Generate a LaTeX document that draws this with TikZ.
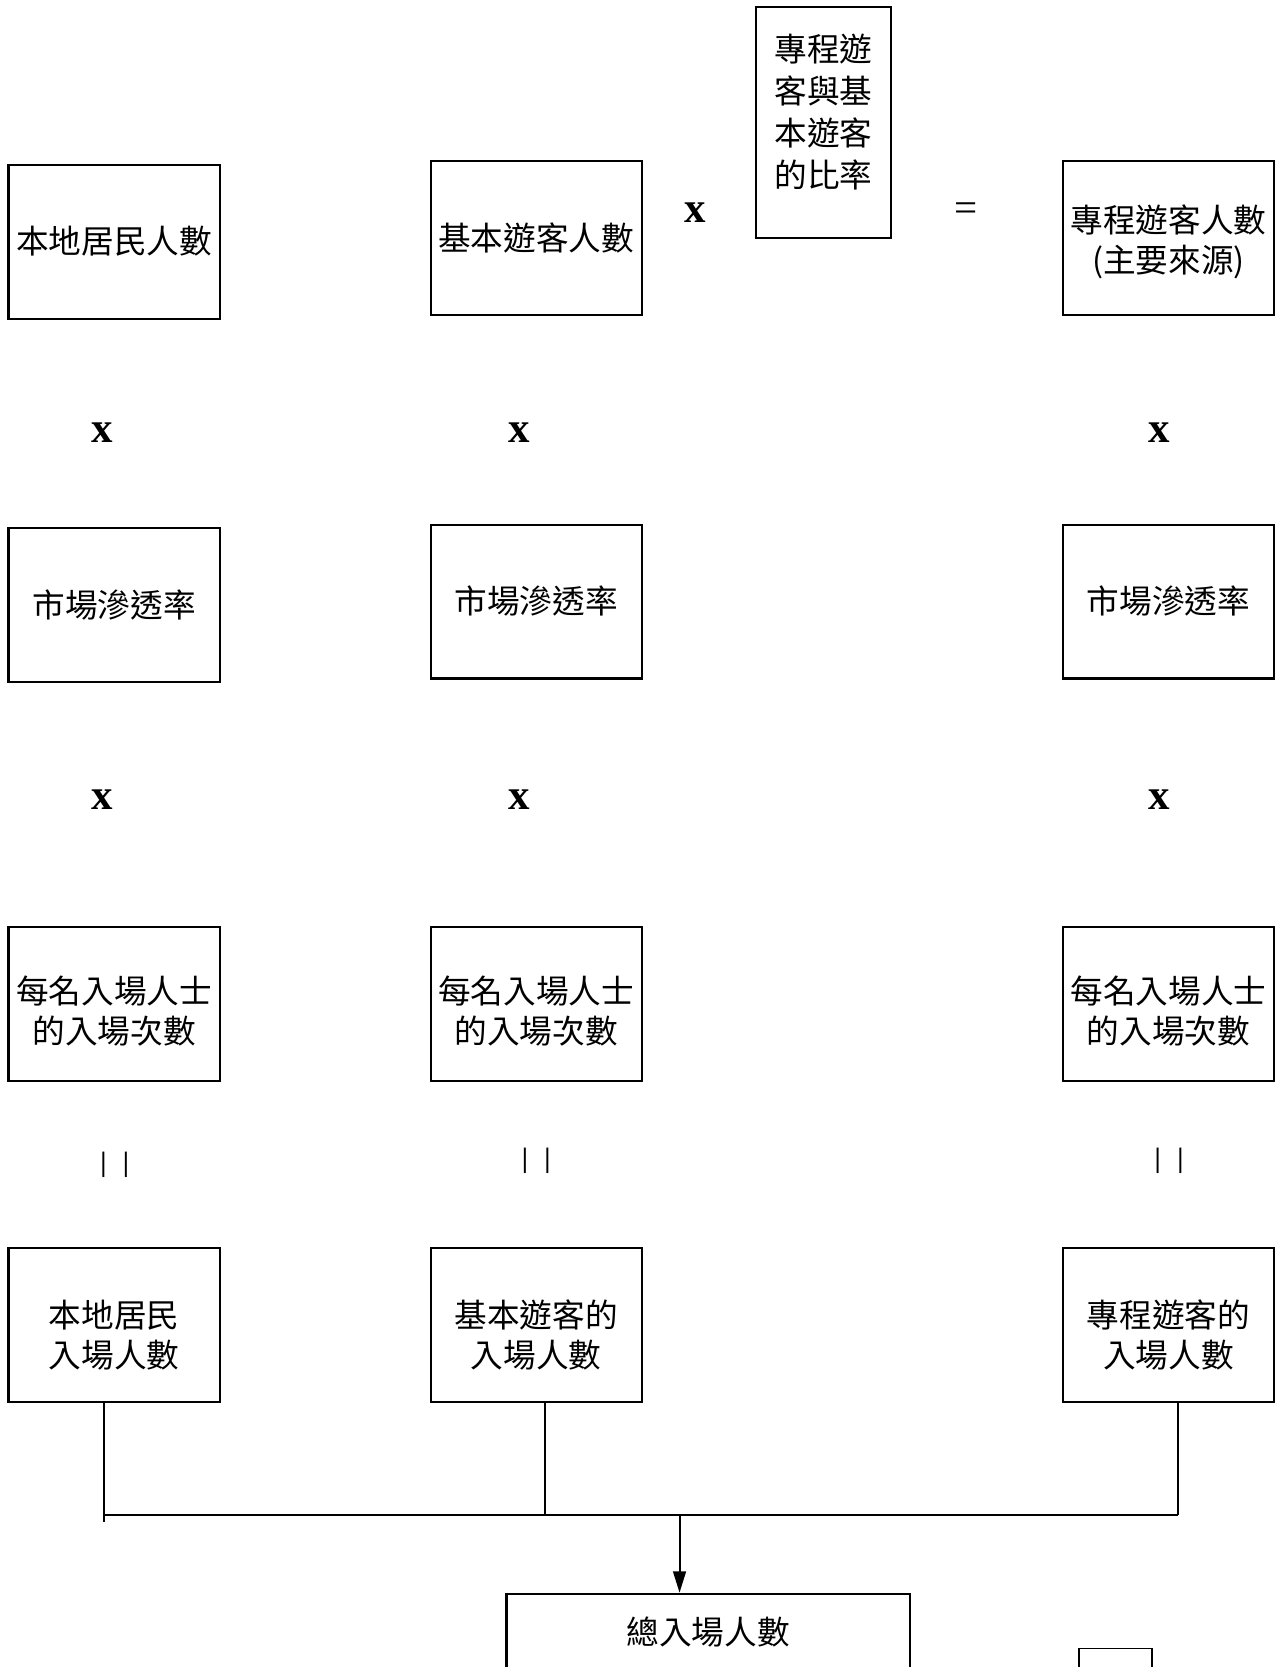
\documentclass[tikz,border=0pt]{standalone}
\usepackage{fontspec}
\setmainfont{Liberation Serif}
\newfontfamily\cjk{Noto Sans CJK TC}
\usetikzlibrary{
  positioning,
  arrows.meta
}
\tikzset{
  >={Triangle[length=0.4cm, width=0.24cm]},
  box/.style = {
    draw=black, line width=1.1pt, inner sep=0pt,
    minimum width=3.98cm, minimum height=2.9cm,
    align=center, font=\cjk\fontsize{17.5}{21.5}\selectfont
  },
  two/.style = {
    text height=#1, text depth=0pt
  },
  op/.style = {
    font=\fontsize{23}{23}\selectfont\bfseries
  },
  eq/.style = {
    font=\fontsize{22}{22}\selectfont
  },
  bars/.style = {
    font=\fontsize{15}{15}\selectfont\bfseries
  }
}
\begin{document}
\begin{tikzpicture}[x=0.02cm, y=-0.02cm, line width=1.1pt]
  \useasboundingbox (0,0) rectangle (1203,1570);
  \path
    (107.5,227.5) node [box] (pop) {本地居民人數}
    (505,224) node [box] (base) {基本遊客人數}
    (655,200) node [op] {x}
    (775.5,115.5) node [box, minimum width=2.54cm, minimum height=4.34cm,
      label={[anchor=north, inner sep=0pt, yshift=-0.5cm, align=center,
        font=\cjk\fontsize{17.5}{22.5}\selectfont]north:專程遊\\客與基\\本遊客\\的比率}] (ratio) {}
    (910,200) node [eq] {=}
    (1100.5,224) node [box, two=37.2pt] (trip) {專程遊客人數\\(主要來源)}
    % first row of x
    (96,407) node [op] {x}
    (489,407) node [op] {x}
    (1092,407) node [op] {x}
    (107.5,569.5) node [box] (pen1) {市場滲透率}
    (505,566.5) node [box] (pen2) {市場滲透率}
    (1100.5,566.5) node [box] (pen3) {市場滲透率}
    % second row of x
    (96,753) node [op] {x}
    (489,753) node [op] {x}
    (1092,753) node [op] {x}
    (107.5,945.5) node [box, two=42.9pt] (freq1) {每名入場人士\\的入場次數}
    (505,945.5) node [box, two=42.9pt] (freq2) {每名入場人士\\的入場次數}
    (1100.5,945.5) node [box, two=42.9pt] (freq3) {每名入場人士\\的入場次數}
    % rotated equal signs
    (108,1097) node [bars] {|\hspace{0.31cm}|}
    (505,1093) node [bars] {|\hspace{0.31cm}|}
    (1101,1093) node [bars] {|\hspace{0.31cm}|}
    (107.5,1247.5) node [box, two=45.7pt] (vis1) {本地居民\\入場人數}
    (505,1247.5) node [box, two=45.7pt] (vis2) {基本遊客的\\入場人數}
    (1100.5,1247.5) node [box, two=45.7pt] (vis3) {專程遊客的\\入場人數}
    (667,1500) node [box, anchor=north, minimum width=7.6cm,
      minimum height=3cm] (total) {}
    (total.north) ++(0,37) node [font=\cjk\fontsize{17.5}{21.5}\selectfont] {總入場人數}
    (1050.5,1552) node [draw, line width=0.8pt, anchor=north,
      minimum width=1.38cm, minimum height=1cm] (spare) {};
  % bus to the total
  \coordinate (j1) at (98,1427);
  \coordinate (j2) at (513,1427);
  \coordinate (j3) at (1109,1427);
  \coordinate (j0) at (640,1427);
  \draw (vis1.south -| j1) -- ++(0,112);
  \draw (vis2.south -| j2) -- (j2);
  \draw (vis3.south -| j3) -- (j3);
  \draw (j1) -- (j3);
  \draw [->] (j0) -- (j0 |- total.north);
\end{tikzpicture}
\end{document}
